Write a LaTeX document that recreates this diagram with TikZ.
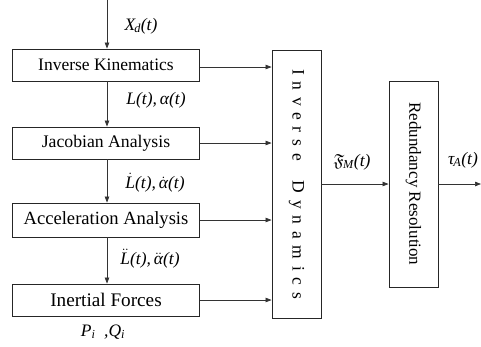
\documentclass[tikz,border=0pt]{standalone}
\usepackage{amsmath}
\usepackage{amssymb}
\usepackage{fontspec}
\setmainfont{Liberation Serif}
\usetikzlibrary{arrows.meta}
\newcommand\dt[1]{$\dot{\text{\itshape #1}}$}
\newcommand\ddt[1]{$\ddot{\text{\itshape #1}}$}
\newcommand\fs[1]{\fontsize{#1}{#1}\selectfont}
\begin{document}
\begin{tikzpicture}[x=1pt,y=-1pt,
  box/.style={draw=black!85,line width=0.9pt,minimum width=187pt,minimum height=32pt,inner sep=0pt},
  vbox/.style={draw=black!85,line width=0.9pt,minimum width=49pt,inner sep=0pt},
  conn/.style={draw=black!80,line width=0.7pt,-{Triangle[length=6pt,width=4.5pt]}},
  lbl/.style={font=\fs{17.5}\itshape,inner sep=0pt}]
\useasboundingbox (0,0) rectangle (481,346);
\coordinate (top) at (107,0);
\node[box,font=\fs{17.5}] (ik) at (106,65) {Inverse Kinematics};
\node[box,font=\fs{17.7}] (jac) at (106,143) {Jacobian Analysis};
\node[box,font=\fs{18.6},minimum height=34pt] (acc) at (106,220) {Acceleration Analysis};
\node[box,font=\fs{19.2}] (inf) at (106,300) {Inertial Forces};
\node[vbox,minimum height=268pt] (id) at (296.5,184) {};
\node[rotate=-90,font=\fs{17.5},inner sep=0pt] (idt) at (id.center) {\makebox[230pt]{I\hfill n\hfill v\hfill e\hfill r\hfill s\hfill e\hfill\hfill\hfill D\hfill y\hfill n\hfill a\hfill m\hfill i\hfill c\hfill s}};
\node[vbox,minimum height=206pt] (rr) at (413.5,184) {};
\node[rotate=-90,font=\fs{17},inner sep=0pt] (rrt) at (rr.center) {Redundancy Resolution};
\coordinate (out) at (481,184);
\draw[conn] (top) -- (ik.north -| top);
\draw[conn] (ik.south -| top) -- (jac.north -| top);
\draw[conn] (jac.south -| top) -- (acc.north -| top);
\draw[conn] (acc.south -| top) -- (inf.north -| top);
\draw[conn] (ik.east) ++(0,2) -- (id.west |- 0,67);
\draw[conn] (jac.east) -- (id.west |- jac.east);
\draw[conn] (acc.east) -- (id.west |- acc.east);
\draw[conn] (inf.east) -- (id.west |- inf.east);
\draw[conn] (id.east |- 0,184) -- (rr.west |- 0,184);
\draw[conn] (rr.east |- 0,184) -- (out);
\node[lbl] (l1) at (141,26) {X\textsubscript{\kern-1pt d}(t)};
\node[lbl] (l2) at (156,100) {L(t),\,α(t)};
\node[lbl] (l3) at (155,183) {\dt{L}(t),\,\dt{α}(t)};
\node[lbl] (l4) at (150,259) {\ddt{L}(t),\,\ddt{α}(t)};
\node[lbl] (l5) at (103,332) {P\textsubscript{i}\ \ ,Q\textsubscript{i}};
\node[lbl] (l6) at (352,162) {$\mathfrak{F}$\textsubscript{\kern-1pt M}(t)};
\node[lbl] (l7) at (463,160) {τ\textsubscript{\kern-1pt A}(t)};
\end{tikzpicture}
\end{document}
